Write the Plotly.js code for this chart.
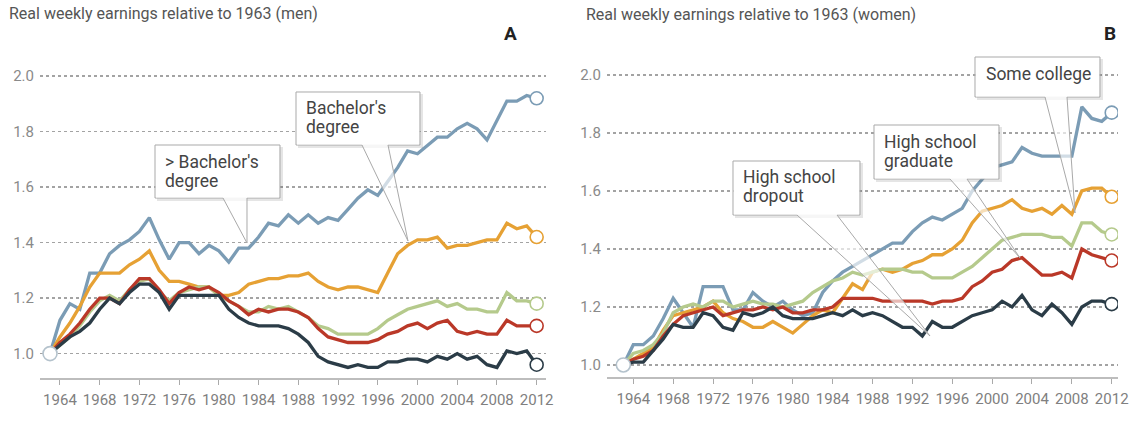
<!DOCTYPE html>
<html>
<head>
<meta charset="utf-8">
<script src="https://cdn.plot.ly/plotly-3.0.1.min.js"></script>
<style>html,body{margin:0;padding:0;background:#fff}#chart{width:1130px;height:428px}</style>
</head>
<body>
<div id="chart"></div>
<script>
// ---------- DATA ----------
const years = [1963,1964,1965,1966,1967,1968,1969,1970,1971,1972,
  1973,1974,1975,1976,1977,1978,1979,1980,1981,1982,
  1983,1984,1985,1986,1987,1988,1989,1990,1991,1992,
  1993,1994,1995,1996,1997,1998,1999,2000,2001,2002,
  2003,2004,2005,2006,2007,2008,2009,2010,2011,2012];

const tickYears = [1964,1968,1972,1976,1980,1984,1988,1992,1996,2000,2004,2008,2012];
const tickYearLabels = ["1964","1968","1972","1976","1980","1984","1988","1992","1996","2000","2004","2008","2012"];
const yTicks = [1.0,1.2,1.4,1.6,1.8,2.0];
const yTickLabels = ["1.0","1.2","1.4","1.6","1.8","2.0"];

// Men (panel A)
const menGrad = [1.00,1.12,1.18,1.16,1.29,1.29,1.36,1.39,1.41,1.44,
  1.49,1.41,1.34,1.40,1.40,1.36,1.39,1.37,1.33,1.38,
  1.38,1.42,1.47,1.46,1.50,1.47,1.50,1.47,1.49,1.48,
  1.52,1.56,1.59,1.57,1.62,1.67,1.73,1.72,1.75,1.78,
  1.78,1.81,1.83,1.81,1.77,1.84,1.91,1.91,1.93,1.92];
const menBA = [1.00,1.06,1.11,1.17,1.24,1.29,1.29,1.29,1.32,1.34,
  1.37,1.30,1.26,1.26,1.25,1.24,1.24,1.21,1.21,1.22,
  1.25,1.26,1.27,1.27,1.28,1.28,1.29,1.26,1.24,1.23,
  1.24,1.24,1.23,1.22,1.29,1.36,1.39,1.41,1.41,1.42,
  1.38,1.39,1.39,1.40,1.41,1.41,1.47,1.45,1.46,1.42];
const menSome = [1.00,1.03,1.06,1.10,1.15,1.19,1.21,1.19,1.23,1.26,
  1.27,1.22,1.19,1.22,1.23,1.24,1.24,1.21,1.19,1.17,
  1.15,1.15,1.17,1.16,1.17,1.15,1.13,1.10,1.09,1.07,
  1.07,1.07,1.07,1.09,1.12,1.14,1.16,1.17,1.18,1.19,
  1.17,1.18,1.16,1.16,1.15,1.15,1.22,1.19,1.19,1.18];
const menHS = [1.00,1.04,1.07,1.11,1.16,1.20,1.20,1.18,1.23,1.27,
  1.27,1.23,1.18,1.22,1.24,1.23,1.24,1.22,1.19,1.17,
  1.14,1.16,1.15,1.16,1.16,1.15,1.13,1.09,1.06,1.05,
  1.04,1.04,1.04,1.05,1.07,1.08,1.10,1.11,1.09,1.11,
  1.12,1.08,1.07,1.08,1.07,1.07,1.12,1.10,1.10,1.10];
const menDrop = [1.00,1.03,1.06,1.08,1.11,1.16,1.20,1.18,1.22,1.25,
  1.25,1.22,1.16,1.21,1.21,1.21,1.21,1.21,1.16,1.13,
  1.11,1.10,1.10,1.10,1.09,1.07,1.04,0.99,0.97,0.96,
  0.95,0.96,0.95,0.95,0.97,0.97,0.98,0.98,0.97,0.99,
  0.98,1.00,0.98,0.99,0.96,0.95,1.01,1.00,1.01,0.96];

// Women (panel B)
const womenGrad = [1.00,1.07,1.07,1.10,1.16,1.23,1.18,1.13,1.27,1.27,
  1.27,1.19,1.19,1.25,1.22,1.20,1.22,1.19,1.17,1.18,
  1.25,1.29,1.32,1.34,1.36,1.38,1.40,1.42,1.42,1.46,
  1.49,1.51,1.50,1.52,1.54,1.60,1.64,1.68,1.69,1.70,
  1.75,1.73,1.72,1.72,1.72,1.72,1.89,1.85,1.84,1.87];
const womenBA = [1.00,1.02,1.04,1.06,1.12,1.17,1.18,1.19,1.20,1.22,
  1.18,1.16,1.15,1.13,1.13,1.15,1.13,1.11,1.14,1.17,
  1.19,1.18,1.23,1.28,1.26,1.32,1.33,1.32,1.33,1.35,
  1.36,1.38,1.38,1.40,1.43,1.49,1.53,1.54,1.55,1.57,
  1.54,1.53,1.54,1.52,1.55,1.52,1.60,1.61,1.61,1.58];
const womenSome = [1.00,1.04,1.05,1.07,1.11,1.18,1.20,1.21,1.20,1.22,
  1.22,1.20,1.21,1.22,1.21,1.21,1.20,1.21,1.22,1.25,
  1.27,1.29,1.30,1.32,1.31,1.32,1.33,1.33,1.33,1.32,
  1.32,1.30,1.30,1.30,1.32,1.34,1.37,1.40,1.43,1.44,
  1.45,1.45,1.45,1.44,1.44,1.41,1.49,1.49,1.46,1.45];
const womenHS = [1.00,1.02,1.03,1.05,1.10,1.14,1.17,1.18,1.19,1.20,
  1.17,1.18,1.19,1.19,1.20,1.19,1.20,1.18,1.18,1.19,
  1.19,1.20,1.23,1.23,1.23,1.23,1.22,1.22,1.22,1.22,
  1.22,1.21,1.22,1.22,1.23,1.27,1.29,1.32,1.33,1.36,
  1.37,1.34,1.31,1.31,1.32,1.30,1.40,1.38,1.37,1.36];
const womenDrop = [1.00,1.01,1.01,1.05,1.09,1.14,1.13,1.13,1.18,1.17,
  1.13,1.12,1.18,1.17,1.18,1.20,1.17,1.16,1.16,1.16,
  1.17,1.18,1.17,1.19,1.17,1.18,1.17,1.15,1.13,1.13,
  1.10,1.15,1.13,1.13,1.15,1.17,1.18,1.19,1.22,1.20,
  1.24,1.19,1.17,1.21,1.18,1.14,1.20,1.22,1.22,1.21];

const titleA = "Real weekly earnings relative to 1963 (men)";
const titleB = "Real weekly earnings relative to 1963 (women)";
const calloutLines = [
  ["&gt; Bachelor's", "degree"],
  ["Bachelor's", "degree"],
  ["High school", "dropout"],
  ["High school", "graduate"],
  ["Some college"]
];

// ---------- STYLE ----------
const W = 1130, H = 428;
const FONT = "Roboto, 'Open Sans', sans-serif";
const colors = {grad:"#7b9cb5", ba:"#e6a134", some:"#b5ca8c", hs:"#ba3828", drop:"#2b3c47"};
const seriesA = [["grad",menGrad],["ba",menBA],["some",menSome],["hs",menHS],["drop",menDrop]];
const seriesB = [["grad",womenGrad],["ba",womenBA],["some",womenSome],["hs",womenHS],["drop",womenDrop]];

const traces = [];
function addPanel(series, xa, ya){
  series.forEach(([k,arr])=>{
    traces.push({x:years, y:arr, type:"scatter", mode:"lines", xaxis:xa, yaxis:ya,
      line:{color:colors[k], width:3.3}, hoverinfo:"skip", showlegend:false});
  });
  series.forEach(([k,arr])=>{
    traces.push({x:[years[years.length-1]], y:[arr[arr.length-1]], type:"scatter", mode:"markers",
      xaxis:xa, yaxis:ya, marker:{size:13, color:"#fff", line:{color:colors[k], width:1.6}},
      hoverinfo:"skip", showlegend:false});
  });
  traces.push({x:[years[0]], y:[series[0][1][0]], type:"scatter", mode:"markers",
    xaxis:xa, yaxis:ya, marker:{size:14, color:"#fff", line:{color:"#b4c2cc", width:1.6}},
    hoverinfo:"skip", showlegend:false});
}
addPanel(seriesA, "x", "y");
addPanel(seriesB, "x2", "y2");

// pixel -> paper helpers
const px = v => v / W;
const py = v => 1 - v / H;
const P = (x,y) => px(x).toFixed(5) + "," + py(y).toFixed(5);

const boxes = [
  {b:[155,145,280,198], w:[223,247], tip:[247,243], t:[163,162]},
  {b:[296,92,420,145], w:[362,388], tip:[408,241], t:[304,108]},
  {b:[733,161,860,215], w:[797,837], tip:[930,336], t:[741,177]},
  {b:[874,125,999,179], w:[950,967], tip:[1020,258], t:[882,142]},
  {b:[975,57,1100,97], w:[1045,1067], tip:[1075,213], t:[984,74]}
];
const shapes = [];
const annotations = [];
boxes.forEach((c,i)=>{
  const [x0,y0,x1,y1] = c.b;
  shapes.push({type:"rect", xref:"paper", yref:"paper", layer:"above",
    x0:px(x0+2), x1:px(x1+3), y0:py(y1+3), y1:py(y0+2),
    fillcolor:"rgba(0,0,0,0.10)", line:{width:0}});
  const pts = [[x0,y0],[x1,y0],[x1,y1],[c.w[1],y1],c.tip,[c.w[0],y1],[x0,y1]];
  shapes.push({type:"path", xref:"paper", yref:"paper", layer:"above",
    path:"M " + pts.map(p=>P(p[0],p[1])).join(" L ") + " Z",
    fillcolor:"rgba(255,255,255,0.65)", line:{color:"#a9a9a9", width:1}});
  shapes.push({type:"rect", xref:"paper", yref:"paper", layer:"above",
    x0:px(x0+1), x1:px(x1-1), y0:py(y1-0.5), y1:py(y0+1),
    fillcolor:"#fff", line:{width:0}});
  calloutLines[i].forEach((ln,j)=>{
    annotations.push({xref:"paper", yref:"paper", x:px(c.t[0]), y:py(c.t[1] + j*19),
      xanchor:"left", yanchor:"middle", align:"left", showarrow:false,
      text:ln, font:{family:FONT, size:17.5, color:"#444"}});
  });
});

annotations.push({xref:"paper", yref:"paper", x:px(7), y:py(13), xanchor:"left", yanchor:"middle",
  showarrow:false, text:titleA, font:{family:FONT, size:16, color:"#555"}});
annotations.push({xref:"paper", yref:"paper", x:px(584), y:py(15), xanchor:"left", yanchor:"middle",
  showarrow:false, text:titleB, font:{family:FONT, size:16, color:"#555"}});
annotations.push({xref:"paper", yref:"paper", x:px(510), y:py(33), xanchor:"center", yanchor:"middle",
  showarrow:false, text:"<b>A</b>", font:{family:FONT, size:19, color:"#222"}});
annotations.push({xref:"paper", yref:"paper", x:px(1110), y:py(33), xanchor:"center", yanchor:"middle",
  showarrow:false, text:"<b>B</b>", font:{family:FONT, size:19, color:"#222"}});

function xaxisDef(d0,d1,r0,r1,anchor){
  return {domain:[px(d0),px(d1)], range:[r0,r1], anchor:anchor,
    tickmode:"array", tickvals:tickYears, ticktext:tickYearLabels,
    ticks:"outside", ticklen:5, tickwidth:1, tickcolor:"#aaa",
    showline:true, linecolor:"#bdbdbd", linewidth:2,
    showgrid:false, zeroline:false, ticklabelstandoff:2,
    tickfont:{family:FONT, size:15, color:"#808080"}, fixedrange:true};
}
function yaxisDef(d0,d1,r0,r1,anchor){
  return {domain:[py(d0),py(d1)], range:[r0,r1], anchor:anchor,
    tickmode:"array", tickvals:yTicks, ticktext:yTickLabels,
    showgrid:true, gridcolor:"#a3a3a3", gridwidth:1.5, griddash:"dot",
    zeroline:false, showline:false, ticks:"", ticklabelstandoff:5,
    tickfont:{family:FONT, size:15, color:"#8a8a8a"}, fixedrange:true};
}

const layout = {
  width:W, height:H, margin:{l:0,r:0,t:0,b:0},
  paper_bgcolor:"#fff", plot_bgcolor:"rgba(0,0,0,0)",
  showlegend:false, hovermode:false,
  xaxis: xaxisDef(40,546,1961.99,2012.94,"y"),
  yaxis: yaxisDef(378,70,0.912,2.022,"x"),
  xaxis2: xaxisDef(607,1118,1961.36,2012.63,"y2"),
  yaxis2: yaxisDef(377,70,0.9586,2.017,"x2"),
  shapes:shapes, annotations:annotations
};

Plotly.newPlot("chart", traces, layout, {staticPlot:true, displayModeBar:false});
</script>
</body>
</html>
